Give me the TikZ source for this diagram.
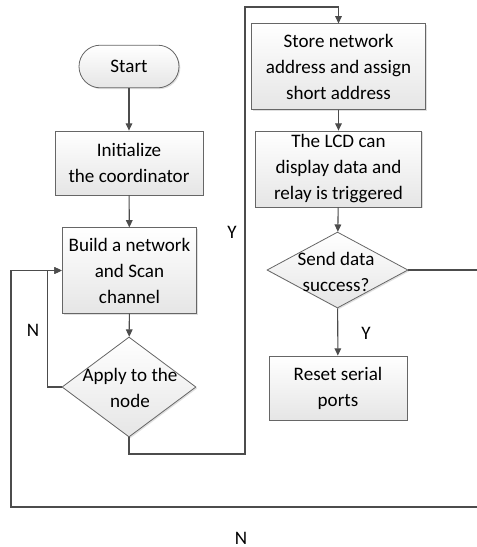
\documentclass[tikz,border=0pt]{standalone}
\usepackage{fontspec}
\setmainfont{Carlito}
\usetikzlibrary{shapes.geometric,shadows,arrows.meta}
\tikzset{
  line/.style={draw=black!70, line width=0.8pt, -{Triangle[length=5.5pt,width=5pt]}},
  box/.style={draw=black!60, line width=0.6pt, top color=white, bottom color=gray!20,
    drop shadow={shadow xshift=1pt, shadow yshift=-1pt, fill=gray!50},
    align=center, inner sep=0pt, font=\fontsize{14.3}{19.5}\selectfont},
  decision/.style={box, shape=diamond},
  term/.style={box, rounded corners=16pt},
  lbl/.style={align=center, font=\fontsize{14.3}{19.5}\selectfont}
}
\begin{document}
\begin{tikzpicture}[x=0.75pt, y=-0.75pt]
  \useasboundingbox (0,0) rectangle (477,547);
  \clip (0,0) rectangle (477,547);

  % left column
  \node [term, minimum width=75pt, minimum height=32pt] (start) at (129,66.5) {Start};
  \node [box, minimum width=111pt, minimum height=48pt] (init) at (129,163) {Initialize\\the coordinator};
  \node [box, minimum width=101pt, minimum height=64pt] (build) at (129.5,270.5) {Build a network\\and Scan\\channel};
  \node [decision, minimum width=100.5pt, minimum height=75pt] (apply) at (129,387) {};
  \node [lbl] (apply text) at (130,388) {Apply to the\\node};

  % right column
  \node [box, minimum width=130pt, minimum height=64pt] (store) at (338.5,66.5) {Store network\\address and assign\\short address};
  \node [box, minimum width=125pt, minimum height=57pt] (lcd) at (338.5,169) {The LCD can\\display data and\\relay is triggered};
  \node [decision, minimum width=105.75pt, minimum height=57pt] (send) at (337.5,270) {};
  \node [lbl] (send text) at (336,272) {Send data\\success?};
  \node [box, minimum width=103.5pt, minimum height=48pt] (reset) at (338,388) {Reset serial\\ports};

  \coordinate (ylow) at (245,454);
  \coordinate (ytop) at (245,7);
  \coordinate (nright) at (520,507);
  \coordinate (nleft) at (11,507);

  \draw [line] (start) -- (init);
  \draw [line] (init) -- (build);
  \draw [line] (build) -- (apply);
  \draw [line] (apply.west) -- ++(-14,0) |- (build.west);
  \draw [line] (apply.south) |- (ylow) -- (ytop) -| (store.north);
  \draw [line] (store) -- (lcd);
  \draw [line] (lcd) -- (send);
  \draw [line] (send) -- (reset);
  \draw [line] (send.east) -| (nright) -- (nleft) |- (build.west);

  % labels
  \node [lbl] (nleft label) at (33,330) {N};
  \node [lbl] (yleft label) at (232,232) {Y};
  \node [lbl] (yright label) at (366,333) {Y};
  \node [lbl] (nbottom label) at (241,538) {N};
\end{tikzpicture}
\end{document}
